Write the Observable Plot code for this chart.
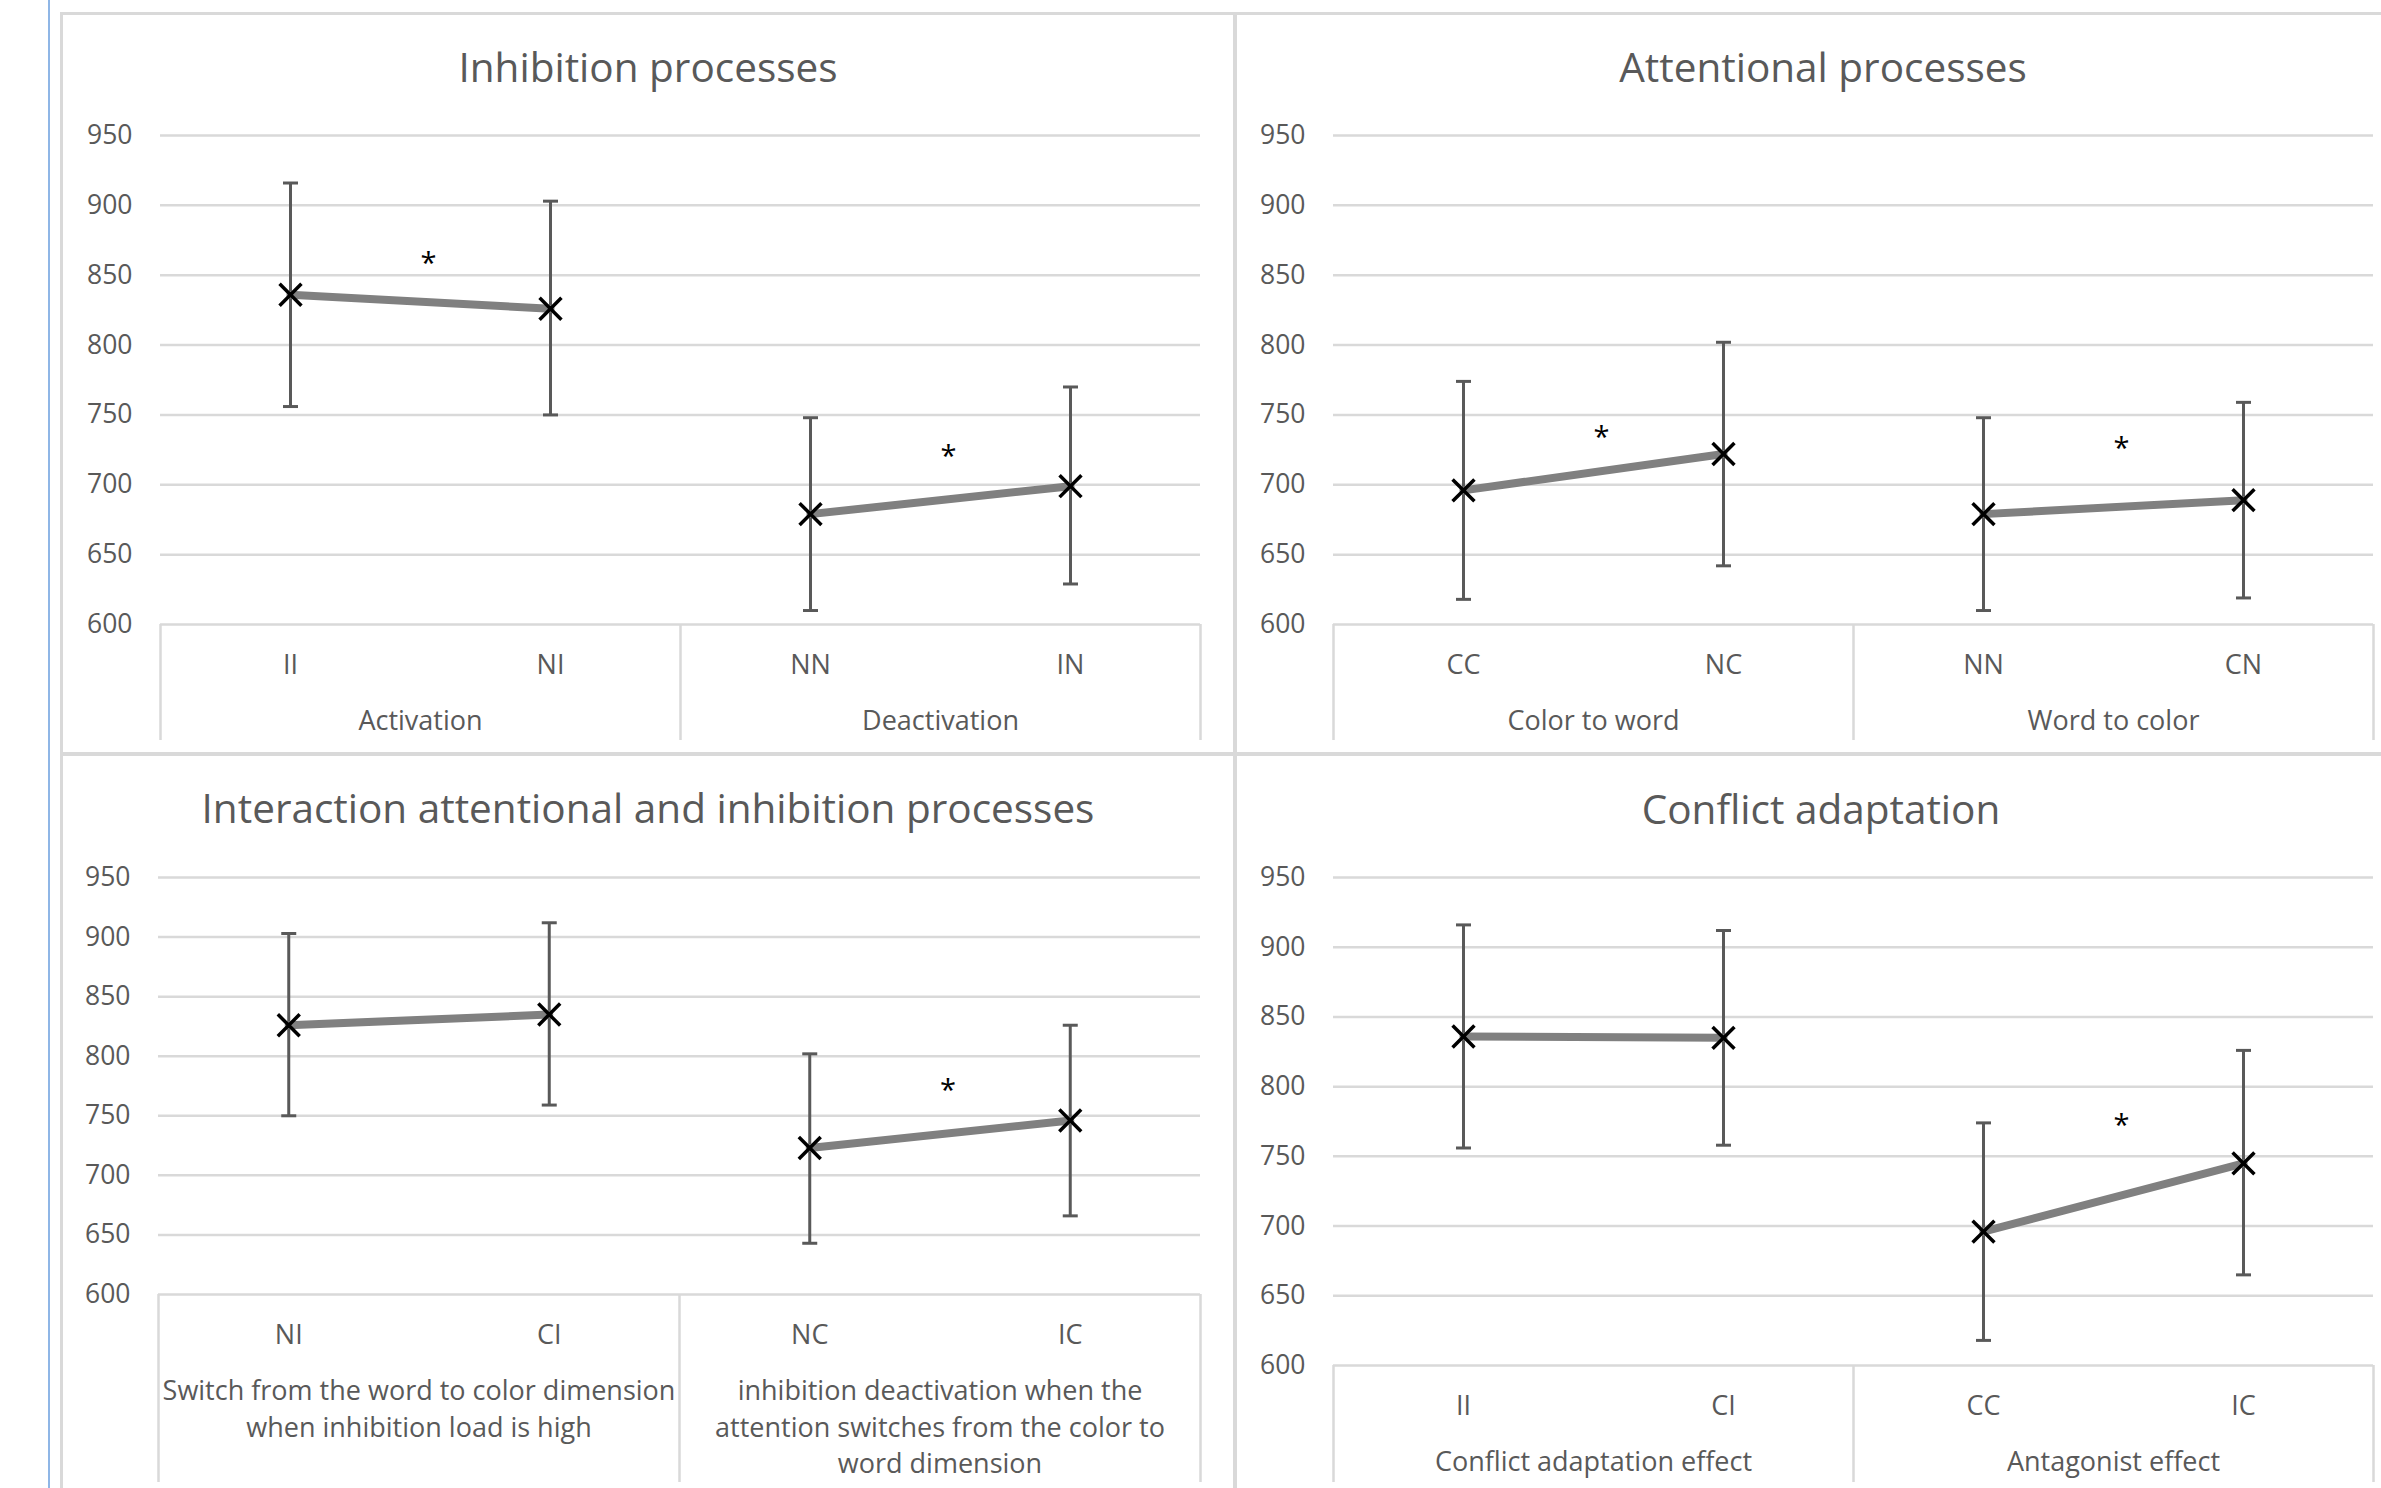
<!DOCTYPE html>
<html><head><meta charset="utf-8">
<script src="https://cdn.jsdelivr.net/npm/d3@7"></script>
<script src="https://cdn.jsdelivr.net/npm/@observablehq/plot@0.6"></script>
<style>
html,body{margin:0;padding:0;background:#fff;}
body{width:2381px;height:1488px;overflow:hidden;position:relative;font-family:"Open Sans",sans-serif;}
.frame{position:absolute;box-sizing:border-box;border:3px solid #d9d9d9;}
.title{position:absolute;text-align:center;font-size:40.5px;line-height:40px;color:#595959;white-space:nowrap;}
.chart{position:absolute;}
.chart svg{max-width:none;display:block;}
#blue{position:absolute;left:48px;top:0;width:2px;height:1488px;background:#8fb6e6;}
</style></head><body>
<div id="blue"></div>
<div class="frame" style="left:60px;top:12px;width:1176px;height:743px;"></div>
<div class="frame" style="left:1234px;top:12px;width:1180px;height:743px;"></div>
<div class="frame" style="left:60px;top:753px;width:1176px;height:800px;"></div>
<div class="frame" style="left:1234px;top:753px;width:1180px;height:800px;"></div>
<script>
const yTicks = [600, 650, 700, 750, 800, 850, 900, 950];

const inhibitionTitle = "Inhibition processes";
const inhibitionCategories = ["II", "NI", "NN", "IN"];
const inhibitionGroups = ["Activation", "Deactivation"];
const inhibitionMean = [836, 826, 679, 699];
const inhibitionLow = [756, 750, 610, 629];
const inhibitionHigh = [916, 903, 748, 770];
const inhibitionStars = [863, 725];

const attentionalTitle = "Attentional processes";
const attentionalCategories = ["CC", "NC", "NN", "CN"];
const attentionalGroups = ["Color to word", "Word to color"];
const attentionalMean = [696, 722, 679, 689];
const attentionalLow = [618, 642, 610, 619];
const attentionalHigh = [774, 802, 748, 759];
const attentionalStars = [739, 731];

const interactionTitle = "Interaction attentional and inhibition processes";
const interactionCategories = ["NI", "CI", "NC", "IC"];
const interactionGroups = ["Switch from the word to color dimension\nwhen inhibition load is high", "inhibition deactivation when the\nattention switches from the color to\nword dimension"];
const interactionMean = [826, 835, 723, 746];
const interactionLow = [750, 759, 643, 666];
const interactionHigh = [903, 912, 802, 826];
const interactionStars = [null, 777];

const conflictTitle = "Conflict adaptation";
const conflictCategories = ["II", "CI", "CC", "IC"];
const conflictGroups = ["Conflict adaptation effect", "Antagonist effect"];
const conflictMean = [836, 835, 696, 745];
const conflictLow = [756, 758, 618, 665];
const conflictHigh = [916, 912, 774, 826];
const conflictStars = [null, 777];

const capSymbol = {
  draw(ctx, size) {
    const r = Math.sqrt(size / Math.PI);
    ctx.moveTo(-r, 0);
    ctx.lineTo(r, 0);
  }
};

function makePanel(cfg) {
  const rows = cfg.cats.map((c, i) => ({
    pos: i + 0.5, cat: c, group: cfg.groups[Math.floor(i / 2)],
    mean: cfg.mean[i], lo: cfg.low[i], hi: cfg.high[i]
  }));
  const stars = cfg.stars.map((v, g) => ({pos: 2 * g + 1, v})).filter(d => d.v != null);
  const plot = Plot.plot({
    width: cfg.width, height: cfg.height,
    marginLeft: cfg.ml, marginRight: cfg.mr, marginTop: cfg.mt, marginBottom: cfg.mb,
    x: {type: "linear", domain: [0, 4]},
    y: {domain: [600, 950]},
    style: {fontFamily: "Open Sans, sans-serif", fontSize: "27px", color: "#595959", background: "transparent", overflow: "visible"},
    marks: [
      Plot.gridY(yTicks, {stroke: "#d9d9d9", strokeOpacity: 1, strokeWidth: 2.5}),
      Plot.axisY(yTicks, {tickSize: 0, tickPadding: 28, tickFormat: d => String(d), fontSize: 26.5, label: null}),
      Plot.axisX([0, 2, 4], {tickSize: cfg.box, tickFormat: () => "", stroke: "#d9d9d9", strokeWidth: 2.5, label: null}),
      Plot.axisX(rows.map(d => d.pos), {tickSize: 0, tickPadding: 30, tickFormat: p => cfg.cats[Math.round(p - 0.5)], fontSize: 27, label: null}),
      Plot.axisX([1, 3], {tickSize: 0, tickPadding: 80, tickFormat: p => cfg.groups[Math.round((p - 1) / 2)], fontSize: 27, lineHeight: 1.35, label: null}),
      Plot.ruleX(rows, {x: "pos", y1: "lo", y2: "hi", stroke: "#595959", strokeWidth: 3}),
      Plot.dot(rows, {x: "pos", y: "lo", symbol: capSymbol, r: 7.5, fill: "none", stroke: "#595959", strokeWidth: 3}),
      Plot.dot(rows, {x: "pos", y: "hi", symbol: capSymbol, r: 7.5, fill: "none", stroke: "#595959", strokeWidth: 3}),
      Plot.line(rows, {x: "pos", y: "mean", z: "group", stroke: "#808080", strokeWidth: 8}),
      Plot.dot(rows, {x: "pos", y: "mean", symbol: "times", r: 10, stroke: "#000", strokeWidth: 3.5}),
      Plot.text(stars, {x: "pos", y: "v", text: () => "*", fill: "#000", fontSize: 29, dx: 8, dy: 7})
    ]
  });
  const div = document.createElement("div");
  div.className = "chart";
  div.style.left = cfg.left + "px";
  div.style.top = cfg.top + "px";
  div.style.width = cfg.width + "px";
  div.appendChild(plot);
  document.body.appendChild(div);

  const t = document.createElement("div");
  t.className = "title";
  t.textContent = cfg.title;
  t.style.left = (cfg.titleX - 600) + "px";
  t.style.width = "1200px";
  t.style.top = cfg.titleTop + "px";
  document.body.appendChild(t);
}

makePanel({title: inhibitionTitle, cats: inhibitionCategories, groups: inhibitionGroups, mean: inhibitionMean, low: inhibitionLow, high: inhibitionHigh, stars: inhibitionStars,
  left: 62, top: 100, width: 1174, height: 652, ml: 98, mr: 36, mt: 35, mb: 128, box: 116, titleX: 648, titleTop: 47});
makePanel({title: attentionalTitle, cats: attentionalCategories, groups: attentionalGroups, mean: attentionalMean, low: attentionalLow, high: attentionalHigh, stars: attentionalStars,
  left: 1237, top: 100, width: 1144, height: 652, ml: 96, mr: 8, mt: 35, mb: 128, box: 116, titleX: 1823, titleTop: 47});
makePanel({title: interactionTitle, cats: interactionCategories, groups: interactionGroups, mean: interactionMean, low: interactionLow, high: interactionHigh, stars: interactionStars,
  left: 62, top: 840, width: 1174, height: 648, ml: 96, mr: 36, mt: 37, mb: 194, box: 188, titleX: 648, titleTop: 788});
makePanel({title: conflictTitle, cats: conflictCategories, groups: conflictGroups, mean: conflictMean, low: conflictLow, high: conflictHigh, stars: conflictStars,
  left: 1237, top: 840, width: 1144, height: 648, ml: 96, mr: 8, mt: 37, mb: 123, box: 117, titleX: 1821, titleTop: 789});
</script>
</body></html>
